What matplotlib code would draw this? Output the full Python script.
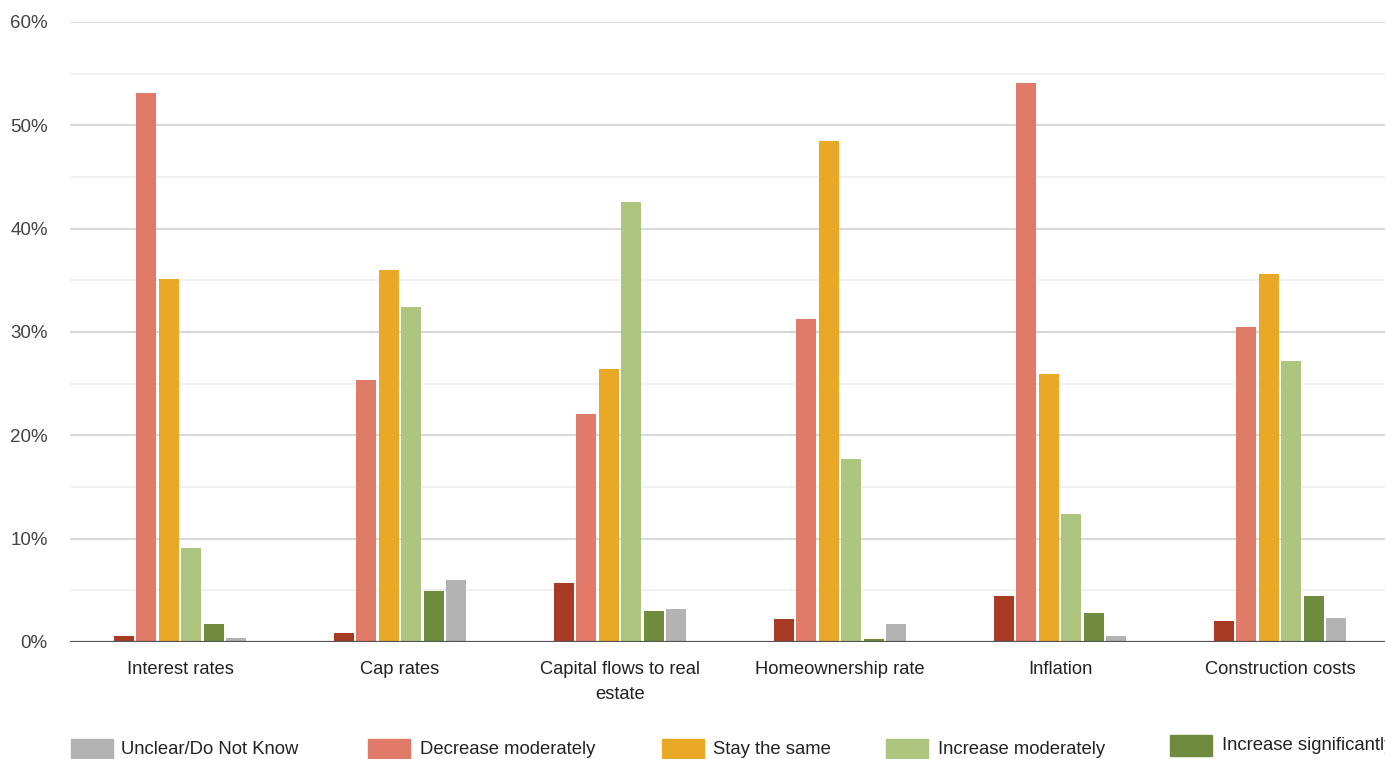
import numpy as np
import matplotlib.pyplot as plt
from matplotlib.patches import Rectangle

plt.rcParams['font.family'] = ['Liberation Sans', 'DejaVu Sans']

categories = ['Interest rates', 'Cap rates', 'Capital flows to real\nestate',
              'Homeownership rate', 'Inflation', 'Construction costs']

# share of respondents (%) per expected change
dec_sig = [0.6, 0.9, 5.7, 2.2, 4.5, 2.0]
dec_mod = [53.1, 25.4, 22.1, 31.3, 54.1, 30.5]
same = [35.1, 36.0, 26.4, 48.5, 25.9, 35.6]
inc_mod = [9.1, 32.4, 42.6, 17.7, 12.4, 27.2]
inc_sig = [1.7, 4.9, 3.0, 0.3, 2.8, 4.5]
unclear = [0.4, 6.0, 3.2, 1.7, 0.6, 2.3]

series = [dec_sig, dec_mod, same, inc_mod, inc_sig, unclear]
colors = ['#a63a23', '#e07a69', '#e9a826', '#aec57f', '#6f8b3e', '#b3b3b3']

W, H = 1385, 759
fig = plt.figure(figsize=(W / 100, H / 100), dpi=100)
ax = fig.add_axes([70 / W, 117 / H, 1320 / W, 620 / H])

x = np.arange(len(categories))
slot = 0.102
for i, (vals, c) in enumerate(zip(series, colors)):
    ax.bar(x + (i - 2.5) * slot, vals, width=0.091, color=c, zorder=3)

ax.set_xlim(-0.5, 5.5)
ax.set_ylim(0, 60)
ax.set_yticks(np.arange(0, 61, 10))
ax.set_yticklabels([f'{v}%' for v in range(0, 61, 10)])
for v in np.arange(5, 60, 10):
    ax.axhline(v, color='#eeeeee', lw=1.2, zorder=1)
for v in np.arange(10, 61, 10):
    ax.axhline(v, color='#cfcfcf', lw=1.2, zorder=1)
ax.axhline(0, color='#555555', lw=1.6, zorder=4)

ax.set_xticks(x)
ax.set_xticklabels(categories, linespacing=1.55)
ax.tick_params(axis='x', length=0, pad=14, labelsize=13.2, labelcolor='#222222')
ax.tick_params(axis='y', length=0, pad=16, labelsize=13.5, labelcolor='#444444')
for s in ax.spines.values():
    s.set_visible(False)

# legend row along the bottom edge
def fx(px):
    return px / W

def fy(py):
    return 1 - py / H

legend_items = [('Unclear/Do Not Know', colors[5], 71, 121, 739),
                ('Decrease moderately', colors[1], 368, 420, 739),
                ('Stay the same', colors[2], 662, 713, 739),
                ('Increase moderately', colors[3], 886, 938, 739),
                ('Increase significantly', colors[4], 1170, 1222, 735)]
for label, c, bx, tx, top in legend_items:
    fig.add_artist(Rectangle((fx(bx), fy(top + 21)), 42 / W, 21 / H,
                             color=c, transform=fig.transFigure))
    fig.text(fx(tx), fy(top + 11), label, fontsize=13.3, color='#222222',
             va='center', ha='left')

fig.savefig('out.png', dpi=100)
